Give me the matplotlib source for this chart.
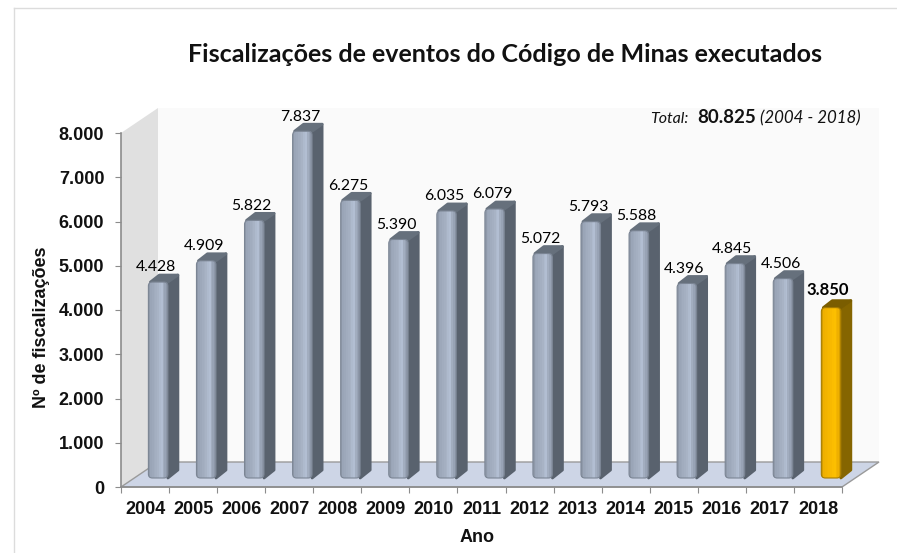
import matplotlib
matplotlib.use("Agg")
import numpy as np
import matplotlib.pyplot as plt
from matplotlib.patches import FancyBboxPatch, Polygon
from matplotlib.lines import Line2D

anos = [2004, 2005, 2006, 2007, 2008, 2009, 2010, 2011, 2012, 2013, 2014, 2015, 2016, 2017, 2018]
fiscalizacoes = [4428, 4909, 5822, 7837, 6275, 5390, 6035, 6079, 5072, 5793, 5588, 4396, 4845, 4506, 3850]
rotulos = ["4.428", "4.909", "5.822", "7.837", "6.275", "5.390", "6.035", "6.079", "5.072", "5.793",
           "5.588", "4.396", "4.845", "4.506", "3.850"]
y_ticks = [0, 1000, 2000, 3000, 4000, 5000, 6000, 7000, 8000]
y_labels = ["0", "1.000", "2.000", "3.000", "4.000", "5.000", "6.000", "7.000", "8.000"]

W, H = 897, 553
SANS = "Liberation Sans"
CAL = "Lato"
PX_X, PX_Y = 48.07, 0.04425  # pixels per category / per unit of value

# 3d look: depth of the walls and of each bar, in data units
wall_dx, wall_dy = 37 / PX_X, 25 / PX_Y
bar_dx, bar_dy = 11 / PX_X, 8 / PX_Y
base = 9 / PX_Y
bar_left, bar_w = 0.57, 19.5 / PX_X
raio = 4 / PX_X

grad_cinza = ["#8f99a9", "#9aa5b7", "#9da8ba", "#a1acbe", "#a4afc1", "#a8b3c5", "#aebacd", "#b2bed2", "#a2adbf", "#98a3b5", "#8d97a8"]
grad_ouro = ["#d39c00", "#efb000", "#f2b300", "#f4b500", "#f6b700", "#f8b900", "#fbbd00", "#fcbf00", "#f4b500", "#eeb000", "#d9a000"]

fig = plt.figure(figsize=(W / 100, H / 100), dpi=100, facecolor="white")
ax = fig.add_axes([121 / W, (H - 487) / H, 721 / W, 354 / H])
ax.set_xlim(0, 15)
ax.set_ylim(0, 8000)
ax.patch.set_visible(False)

# moldura clara da imagem
fig.add_artist(Line2D([14 / W, 14 / W], [0, 1 - 8 / H], color="#dcdcdc", lw=1))
fig.add_artist(Line2D([14 / W, 1], [1 - 8 / H, 1 - 8 / H], color="#dcdcdc", lw=1))

# paredes e piso
ax.add_patch(Polygon([(wall_dx, wall_dy), (15 + wall_dx, wall_dy), (15 + wall_dx, 8000 + wall_dy), (wall_dx, 8000 + wall_dy)],
                     fc="#fafafa", ec="none", clip_on=False, zorder=1))
ax.add_patch(Polygon([(0, 0), (wall_dx, wall_dy), (wall_dx, 8000 + wall_dy), (0, 8000)],
                     fc="#e0e0e0", ec="none", clip_on=False, zorder=1))
ax.add_patch(Polygon([(0, 0), (15, 0), (15 + wall_dx, wall_dy), (wall_dx, wall_dy)],
                     fc="#cdd5e6", ec="#9a9a9a", lw=1, clip_on=False, zorder=1))

for i, v in enumerate(fiscalizacoes):
    ultimo = i == len(fiscalizacoes) - 1
    x0 = i + bar_left
    topo = base + v
    lado = "#856500" if ultimo else "#59626e"
    tampa = "#7a5d00" if ultimo else "#66707c"
    borda = "#a67c00" if ultimo else "#7b8594"
    grad = grad_ouro if ultimo else grad_cinza
    x1 = x0 + bar_w
    fx = x1 + bar_dx - 1 / PX_X

    # lateral e tampa
    ax.add_patch(Polygon([(x1, base), (fx, base + bar_dy), (fx, topo + bar_dy - 1 / PX_Y), (x1, topo)],
                         fc=lado, ec=lado, lw=2, joinstyle="round", clip_on=False, zorder=3))
    ax.add_patch(Polygon([(x0 + 2 / PX_X, topo), (x0 + bar_dx, topo + bar_dy - 1 / PX_Y), (fx, topo + bar_dy - 1 / PX_Y), (x1, topo)],
                         fc=tampa, ec=tampa, lw=2, joinstyle="round", clip_on=False, zorder=3))

    # frente com degrade, cantos arredondados
    forma = FancyBboxPatch((x0 + raio, base + raio * PX_X / PX_Y), bar_w - 2 * raio, v - 2 * raio * PX_X / PX_Y,
                           boxstyle=f"round,pad={raio},rounding_size={raio}", mutation_aspect=PX_X / PX_Y,
                           fc="none", ec=borda, lw=0.8, clip_on=False, zorder=4.5)
    ax.add_patch(forma)
    n = len(grad)
    faixas = ax.bar(x0 + (np.arange(n) + 0.5) * bar_w / n, [v] * n, width=bar_w / n, bottom=base,
                    color=grad, lw=0, antialiased=False, zorder=4)
    for r in faixas:
        r.set_clip_path(forma)
        r.set_clip_box(None)

    cx = x0 + bar_w / 2
    if ultimo:
        ax.annotate(rotulos[i], (cx, topo), xytext=(-2.2, 13), textcoords="offset points", ha="center", va="center",
                    fontsize=12, family=CAL, fontweight="bold", color="black", zorder=6, annotation_clip=False)
    else:
        ax.annotate(rotulos[i], (cx, topo), xytext=(-1.8, 10.5), textcoords="offset points", ha="center", va="center",
                    fontsize=11.3, family=CAL, color="black", zorder=6, annotation_clip=False)

# eixos
for s in ["top", "right"]:
    ax.spines[s].set_visible(False)
for s in ["left", "bottom"]:
    ax.spines[s].set_color("#8c8c8c")
    ax.spines[s].set_linewidth(1.2)
    ax.spines[s].set_zorder(5)

ax.set_yticks(y_ticks)
ax.set_yticklabels(y_labels, family=SANS, fontweight="bold", fontsize=13, color="#111111")
ax.tick_params(axis="y", length=4, width=0.8, color="#8c8c8c", pad=8)
ax.set_xticks(np.arange(16))
ax.set_xticklabels([])
ax.set_xticks(np.arange(15) + 0.5, minor=True)
ax.set_xticklabels([str(a) for a in anos], minor=True, family=SANS, fontweight="bold", fontsize=13, color="#111111")
ax.tick_params(axis="x", which="major", length=4, width=0.8, color="#8c8c8c")
ax.tick_params(axis="x", which="minor", length=0, pad=10)

fig.text(505 / W, 1 - 54 / H, "Fiscalizações de eventos do Código de Minas executados", ha="center", va="center",
         family=CAL, fontweight="bold", fontsize=18, color="#111111")
fig.text(41 / W, 1 - 327 / H, "Nº de fiscalizações", rotation=90, ha="center", va="center",
         family=SANS, fontweight="bold", fontsize=13, color="#111111")
fig.text(477 / W, 1 - 537 / H, "Ano", ha="center", va="center", family=SANS, fontweight="bold", fontsize=13, color="#111111")

# total, em tres pedacos
fig.text(650 / W, 1 - 123 / H, "Total:", family=CAL, style="italic", fontsize=11.5, color="#111111", va="baseline")
fig.text(697 / W, 1 - 123 / H, "80.825", family=CAL, fontweight="bold", fontsize=13.5, color="#111111", va="baseline")
fig.text(760 / W, 1 - 123 / H, "(2004 - 2018)", family=CAL, style="italic", fontsize=12.2, color="#111111", va="baseline")

fig.savefig("out.png", dpi=100, facecolor="white")
